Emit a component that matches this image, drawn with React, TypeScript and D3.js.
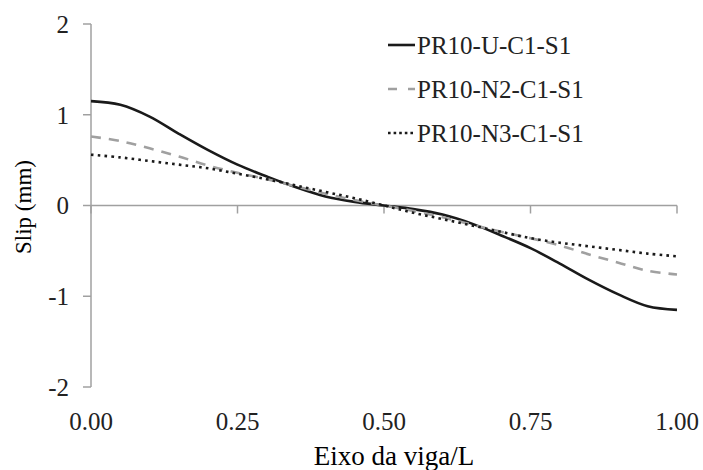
import React from "react";
import * as d3 from "d3";

const xPositions = [0, 0.05, 0.1, 0.15, 0.2, 0.25, 0.3, 0.35, 0.4, 0.45, 0.5, 0.55, 0.6, 0.65, 0.7, 0.75, 0.8, 0.85, 0.9, 0.95, 1.0];
const slipU = [1.15, 1.11, 0.98, 0.79, 0.61, 0.45, 0.32, 0.20, 0.10, 0.04, 0.0, -0.04, -0.10, -0.20, -0.33, -0.47, -0.64, -0.82, -0.98, -1.11, -1.15];
const slipN2 = [0.76, 0.71, 0.63, 0.54, 0.44, 0.36, 0.29, 0.21, 0.13, 0.06, 0.0, -0.06, -0.13, -0.21, -0.29, -0.36, -0.44, -0.54, -0.63, -0.72, -0.76];
const slipN3 = [0.56, 0.53, 0.49, 0.45, 0.41, 0.35, 0.29, 0.22, 0.15, 0.08, 0.0, -0.08, -0.15, -0.22, -0.29, -0.36, -0.41, -0.45, -0.49, -0.53, -0.56];
const seriesNames = ["PR10-U-C1-S1", "PR10-N2-C1-S1", "PR10-N3-C1-S1"];
const xTicks = [0, 0.25, 0.5, 0.75, 1.0];
const xTickLabels = ["0.00", "0.25", "0.50", "0.75", "1.00"];
const yTicks = [-2, -1, 0, 1, 2];
const yTickLabels = ["-2", "-1", "0", "1", "2"];
const xTitle = "Eixo da viga/L";
const yTitle = "Slip (mm)";

const FONT = "Liberation Serif, Times New Roman, Times, serif";

const styles = [
  { stroke: "#1a1a1a", width: 2.6, dash: undefined as string | undefined, legendDash: undefined as string | undefined },
  { stroke: "#a0a0a0", width: 2.6, dash: "10,8", legendDash: "9,11" },
  { stroke: "#1a1a1a", width: 2.6, dash: "2.6,4.2", legendDash: "2.6,3" },
];

export default function App() {
  const x = d3.scaleLinear().domain([0, 1]).range([91, 677]);
  const y = d3.scaleLinear().domain([-2, 2]).range([387, 24]);
  const line = d3
    .line<[number, number]>()
    .x((d) => x(d[0]))
    .y((d) => y(d[1]))
    .curve(d3.curveCatmullRom.alpha(0.5));
  const series = [slipU, slipN2, slipN3].map((vals) => xPositions.map((t, i) => [t, vals[i]] as [number, number]));
  const legendY = [45, 89, 133];
  const txt = { fontFamily: FONT } as React.CSSProperties;

  return (
    <div style={{ position: "absolute", left: 0, top: 0 }}>
      <svg width={703} height={470} style={{ display: "block", background: "#fff" }}>
        <line x1={x(0)} x2={x(0)} y1={y(2)} y2={y(-2)} stroke="#a0a0a0" strokeWidth={1.5} />
        {yTicks.map((v) => (
          <line key={"yt" + v} x1={x(0) - 8} x2={x(0)} y1={y(v)} y2={y(v)} stroke="#a0a0a0" strokeWidth={1.5} />
        ))}
        <line x1={x(0)} x2={x(1)} y1={y(0)} y2={y(0)} stroke="#a0a0a0" strokeWidth={1.5} />
        {xTicks.map((v) => (
          <line key={"xt" + v} x1={x(v)} x2={x(v)} y1={y(0)} y2={y(0) + 8} stroke="#a0a0a0" strokeWidth={1.5} />
        ))}
        {series.map((s, i) => (
          <path
            key={"s" + i}
            d={line(s) || ""}
            fill="none"
            stroke={styles[i].stroke}
            strokeWidth={styles[i].width}
            strokeDasharray={styles[i].dash}
          />
        ))}
        {yTicks.map((v, i) => (
          <text key={"yl" + v} x={69} y={y(v)} dy="0.35em" textAnchor="end" style={txt} fontSize={25} fill="#222">
            {yTickLabels[i]}
          </text>
        ))}
        {xTicks.map((v, i) => (
          <text key={"xl" + v} x={x(v)} y={430} textAnchor="middle" style={txt} fontSize={25} fill="#222">
            {xTickLabels[i]}
          </text>
        ))}
        <text x={394} y={465} textAnchor="middle" style={txt} fontSize={27} fill="#000">
          {xTitle}
        </text>
        <text transform={`translate(23,207) rotate(-90)`} textAnchor="middle" dy="0.35em" style={txt} fontSize={23} fill="#000">
          {yTitle}
        </text>
        {seriesNames.map((name, i) => (
          <g key={"lg" + i}>
            <line
              x1={388}
              x2={415}
              y1={legendY[i]}
              y2={legendY[i]}
              stroke={styles[i].stroke}
              strokeWidth={styles[i].width}
              strokeDasharray={styles[i].legendDash}
            />
            <text x={417} y={legendY[i]} dy="0.35em" style={txt} fontSize={25} fill="#222">
              {name}
            </text>
          </g>
        ))}
      </svg>
    </div>
  );
}
